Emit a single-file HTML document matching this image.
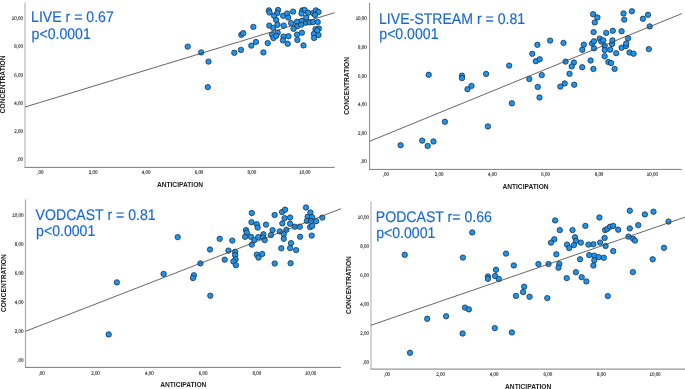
<!DOCTYPE html>
<html><head><meta charset="utf-8"><title>Scatter plots</title>
<style>
html,body{margin:0;padding:0;background:#fff;overflow:hidden}
svg{display:block;will-change:transform}
text{font-family:"Liberation Sans",sans-serif}
.tt{text-rendering:geometricPrecision}
.tk text{font-size:5.2px;fill:#222;text-rendering:geometricPrecision;stroke:#222;stroke-width:0.12px}
.ax{font-size:6.65px;font-weight:bold;fill:#222}
.tt{font-size:15.4px;fill:#1768d2;stroke:#1768d2;stroke-width:0.15px}
.dt circle{fill:#1b94f2;stroke:#1b2a3a;stroke-width:0.75}
</style></head>
<body>
<svg width="685" height="389" viewBox="0 0 685 389">
<rect width="685" height="389" fill="#fff"/>
<line x1="25" y1="2.5" x2="25" y2="167.4" stroke="#c6c6c6" stroke-width="1.5"/>
<line x1="24.5" y1="167.4" x2="334.7" y2="167.4" stroke="#7c7c7c" stroke-width="1.0"/>
<g class="tk"><text transform="translate(23,161.4) scale(0.86,1)" text-anchor="end">,00</text><text transform="translate(23,133.1) scale(0.86,1)" text-anchor="end">2,00</text><text transform="translate(23,104.8) scale(0.86,1)" text-anchor="end">4,00</text><text transform="translate(23,76.5) scale(0.86,1)" text-anchor="end">6,00</text><text transform="translate(23,48.2) scale(0.86,1)" text-anchor="end">8,00</text><text transform="translate(23,19.9) scale(0.86,1)" text-anchor="end">10,00</text><text transform="translate(40.3,174.3) scale(0.86,1)" text-anchor="middle">,00</text><text transform="translate(93.2,174.3) scale(0.86,1)" text-anchor="middle">2,00</text><text transform="translate(146.1,174.3) scale(0.86,1)" text-anchor="middle">4,00</text><text transform="translate(199,174.3) scale(0.86,1)" text-anchor="middle">6,00</text><text transform="translate(251.9,174.3) scale(0.86,1)" text-anchor="middle">8,00</text><text transform="translate(304.8,174.3) scale(0.86,1)" text-anchor="middle">10,00</text></g>
<text class="ax" x="180" y="186.8" text-anchor="middle">ANTICIPATION</text>
<text class="ax" transform="translate(5.2,84.4) rotate(-90)" text-anchor="middle">CONCENTRATION</text>
<g class="dt"><circle cx="187.7" cy="46.6" r="2.7"/><circle cx="201.2" cy="52.4" r="2.7"/><circle cx="208.5" cy="61.6" r="2.7"/><circle cx="207.8" cy="87.1" r="2.7"/><circle cx="234.3" cy="52.8" r="2.7"/><circle cx="240.9" cy="49.9" r="2.7"/><circle cx="241.3" cy="34.8" r="2.7"/><circle cx="243.2" cy="33.1" r="2.7"/><circle cx="253.4" cy="26.9" r="2.7"/><circle cx="251.3" cy="45.6" r="2.7"/><circle cx="255.9" cy="42" r="2.7"/><circle cx="263.4" cy="52.4" r="2.7"/><circle cx="267.7" cy="43.1" r="2.7"/><circle cx="268.9" cy="10.4" r="2.7"/><circle cx="269.5" cy="12.5" r="2.7"/><circle cx="278.1" cy="10" r="2.7"/><circle cx="277.3" cy="13.1" r="2.7"/><circle cx="274.1" cy="15.8" r="2.7"/><circle cx="276.2" cy="20" r="2.7"/><circle cx="283.1" cy="15.8" r="2.7"/><circle cx="287.2" cy="13.5" r="2.7"/><circle cx="288.3" cy="17.6" r="2.7"/><circle cx="293.1" cy="11.6" r="2.7"/><circle cx="269.3" cy="25.6" r="2.7"/><circle cx="273.3" cy="27.9" r="2.7"/><circle cx="277.5" cy="24.8" r="2.7"/><circle cx="283.7" cy="25.6" r="2.7"/><circle cx="291.1" cy="23.1" r="2.7"/><circle cx="297" cy="21.8" r="2.7"/><circle cx="297" cy="26.3" r="2.7"/><circle cx="293.5" cy="28.8" r="2.7"/><circle cx="302.3" cy="10.4" r="2.7"/><circle cx="304.6" cy="10" r="2.7"/><circle cx="301.5" cy="13.5" r="2.7"/><circle cx="308.1" cy="12.7" r="2.7"/><circle cx="306.2" cy="17.7" r="2.7"/><circle cx="313.1" cy="13.1" r="2.7"/><circle cx="315.8" cy="10.4" r="2.7"/><circle cx="318.5" cy="11.9" r="2.7"/><circle cx="315" cy="15" r="2.7"/><circle cx="301.9" cy="20.8" r="2.7"/><circle cx="305.8" cy="22.7" r="2.7"/><circle cx="309.6" cy="22.3" r="2.7"/><circle cx="313.1" cy="22" r="2.7"/><circle cx="317.7" cy="22" r="2.7"/><circle cx="301.2" cy="24.7" r="2.7"/><circle cx="315.5" cy="29.2" r="2.7"/><circle cx="318.9" cy="28.5" r="2.7"/><circle cx="272" cy="34.6" r="2.7"/><circle cx="273.5" cy="38.1" r="2.7"/><circle cx="277.7" cy="32.7" r="2.7"/><circle cx="276.2" cy="35.8" r="2.7"/><circle cx="283.5" cy="36.6" r="2.7"/><circle cx="282.9" cy="40.4" r="2.7"/><circle cx="288.5" cy="36.2" r="2.7"/><circle cx="287.7" cy="43.7" r="2.7"/><circle cx="297" cy="34.6" r="2.7"/><circle cx="297.4" cy="40" r="2.7"/><circle cx="301.9" cy="32.7" r="2.7"/><circle cx="303.5" cy="45.4" r="2.7"/><circle cx="313.9" cy="33.9" r="2.7"/><circle cx="318.5" cy="35" r="2.7"/><circle cx="314.1" cy="37.9" r="2.7"/><circle cx="317.3" cy="30.4" r="2.7"/></g>
<line x1="25.1" y1="107" x2="334.6" y2="12.7" stroke="#4a4a4a" stroke-width="0.85"/>
<text class="tt" transform="translate(31.1,22.25) scale(0.9156,1)">LIVE r = 0.67</text>
<text class="tt" transform="translate(31.6,38.95) scale(0.9156,1)">p&lt;0.0001</text>
<line x1="369.6" y1="2.9" x2="369.6" y2="169.4" stroke="#8c8c8c" stroke-width="1.0"/>
<line x1="369.1" y1="169.4" x2="681.7" y2="169.4" stroke="#7c7c7c" stroke-width="1.0"/>
<g class="tk"><text transform="translate(366.8,163.3) scale(0.86,1)" text-anchor="end">,00</text><text transform="translate(366.8,134.7) scale(0.86,1)" text-anchor="end">2,00</text><text transform="translate(366.8,106.1) scale(0.86,1)" text-anchor="end">4,00</text><text transform="translate(366.8,77.5) scale(0.86,1)" text-anchor="end">6,00</text><text transform="translate(366.8,48.9) scale(0.86,1)" text-anchor="end">8,00</text><text transform="translate(366.8,20.3) scale(0.86,1)" text-anchor="end">10,00</text><text transform="translate(385.8,176.3) scale(0.86,1)" text-anchor="middle">,00</text><text transform="translate(439.1,176.3) scale(0.86,1)" text-anchor="middle">2,00</text><text transform="translate(492.4,176.3) scale(0.86,1)" text-anchor="middle">4,00</text><text transform="translate(545.7,176.3) scale(0.86,1)" text-anchor="middle">6,00</text><text transform="translate(599,176.3) scale(0.86,1)" text-anchor="middle">8,00</text><text transform="translate(652.3,176.3) scale(0.86,1)" text-anchor="middle">10,00</text></g>
<text class="ax" x="525.5" y="189.4" text-anchor="middle">ANTICIPATION</text>
<text class="ax" transform="translate(349.1,85.9) rotate(-90)" text-anchor="middle">CONCENTRATION</text>
<g class="dt"><circle cx="400.6" cy="145.2" r="2.7"/><circle cx="422.2" cy="140.6" r="2.7"/><circle cx="427.7" cy="145.9" r="2.7"/><circle cx="433.5" cy="141.5" r="2.7"/><circle cx="428.7" cy="74.8" r="2.7"/><circle cx="444.9" cy="121.8" r="2.7"/><circle cx="462" cy="75.7" r="2.7"/><circle cx="462" cy="78.1" r="2.7"/><circle cx="471.5" cy="85.9" r="2.7"/><circle cx="467.5" cy="89.2" r="2.7"/><circle cx="486.1" cy="73.9" r="2.7"/><circle cx="487.9" cy="126.4" r="2.7"/><circle cx="509.2" cy="65.6" r="2.7"/><circle cx="511.9" cy="103.3" r="2.7"/><circle cx="529.3" cy="79" r="2.7"/><circle cx="532.3" cy="53.8" r="2.7"/><circle cx="537.4" cy="44.8" r="2.7"/><circle cx="535.8" cy="61.2" r="2.7"/><circle cx="539.7" cy="59.3" r="2.7"/><circle cx="541.8" cy="75.1" r="2.7"/><circle cx="537.8" cy="86.9" r="2.7"/><circle cx="539.5" cy="97.5" r="2.7"/><circle cx="550.1" cy="40.6" r="2.7"/><circle cx="563.5" cy="42.9" r="2.7"/><circle cx="565.6" cy="61.6" r="2.7"/><circle cx="560.3" cy="86.6" r="2.7"/><circle cx="564.7" cy="83.4" r="2.7"/><circle cx="569.5" cy="73.8" r="2.7"/><circle cx="573.9" cy="62.5" r="2.7"/><circle cx="571.7" cy="66.4" r="2.7"/><circle cx="582.2" cy="67.2" r="2.7"/><circle cx="590.6" cy="60.5" r="2.7"/><circle cx="593.4" cy="68.9" r="2.7"/><circle cx="574.2" cy="84.7" r="2.7"/><circle cx="593.1" cy="14.2" r="2.7"/><circle cx="597.4" cy="17.4" r="2.7"/><circle cx="594.8" cy="22.4" r="2.7"/><circle cx="593.6" cy="32.1" r="2.7"/><circle cx="606.2" cy="32.9" r="2.7"/><circle cx="612.8" cy="30.8" r="2.7"/><circle cx="583.8" cy="44.7" r="2.7"/><circle cx="582.3" cy="49.8" r="2.7"/><circle cx="592" cy="43.5" r="2.7"/><circle cx="593.9" cy="41.3" r="2.7"/><circle cx="594" cy="48.3" r="2.7"/><circle cx="599.7" cy="38.6" r="2.7"/><circle cx="601.3" cy="41.6" r="2.7"/><circle cx="603.3" cy="40.4" r="2.7"/><circle cx="604.7" cy="46" r="2.7"/><circle cx="604.7" cy="50.1" r="2.7"/><circle cx="610.2" cy="49.7" r="2.7"/><circle cx="612.1" cy="44" r="2.7"/><circle cx="612.4" cy="40.4" r="2.7"/><circle cx="604.7" cy="56.3" r="2.7"/><circle cx="623.5" cy="13.4" r="2.7"/><circle cx="631.9" cy="11.3" r="2.7"/><circle cx="624.2" cy="19.6" r="2.7"/><circle cx="642.9" cy="18.8" r="2.7"/><circle cx="648" cy="14.8" r="2.7"/><circle cx="649.7" cy="26.4" r="2.7"/><circle cx="621.6" cy="31.2" r="2.7"/><circle cx="628.1" cy="38.3" r="2.7"/><circle cx="648.8" cy="49.1" r="2.7"/><circle cx="616.2" cy="53.2" r="2.7"/><circle cx="621.6" cy="47.8" r="2.7"/><circle cx="625.9" cy="46" r="2.7"/><circle cx="626.2" cy="43.5" r="2.7"/><circle cx="629.6" cy="52.5" r="2.7"/><circle cx="633.6" cy="53.7" r="2.7"/><circle cx="608.4" cy="62" r="2.7"/><circle cx="611.1" cy="63" r="2.7"/><circle cx="614.6" cy="68.9" r="2.7"/></g>
<line x1="369.3" y1="141.4" x2="681.8" y2="13.6" stroke="#4a4a4a" stroke-width="0.85"/>
<text class="tt" transform="translate(379,23.55) scale(0.9156,1)">LIVE-STREAM r = 0.81</text>
<text class="tt" transform="translate(379.3,39.05) scale(0.9156,1)">p&lt;0.0001</text>
<line x1="25.5" y1="199.4" x2="25.5" y2="367.4" stroke="#a8a8a8" stroke-width="1.2"/>
<line x1="25" y1="367.4" x2="340.9" y2="367.4" stroke="#7c7c7c" stroke-width="1.0"/>
<g class="tk"><text transform="translate(23.4,361.5) scale(0.86,1)" text-anchor="end">,00</text><text transform="translate(23.4,332.6) scale(0.86,1)" text-anchor="end">2,00</text><text transform="translate(23.4,303.7) scale(0.86,1)" text-anchor="end">4,00</text><text transform="translate(23.4,274.8) scale(0.86,1)" text-anchor="end">6,00</text><text transform="translate(23.4,245.9) scale(0.86,1)" text-anchor="end">8,00</text><text transform="translate(23.4,217) scale(0.86,1)" text-anchor="end">10,00</text><text transform="translate(41.7,374.9) scale(0.86,1)" text-anchor="middle">,00</text><text transform="translate(95.5,374.9) scale(0.86,1)" text-anchor="middle">2,00</text><text transform="translate(149.3,374.9) scale(0.86,1)" text-anchor="middle">4,00</text><text transform="translate(203.1,374.9) scale(0.86,1)" text-anchor="middle">6,00</text><text transform="translate(256.9,374.9) scale(0.86,1)" text-anchor="middle">8,00</text><text transform="translate(310.7,374.9) scale(0.86,1)" text-anchor="middle">10,00</text></g>
<text class="ax" x="183.3" y="387" text-anchor="middle">ANTICIPATION</text>
<text class="ax" transform="translate(5.9,283.2) rotate(-90)" text-anchor="middle">CONCENTRATION</text>
<g class="dt"><circle cx="108.7" cy="334.4" r="2.7"/><circle cx="116.9" cy="282.4" r="2.7"/><circle cx="163.6" cy="273.9" r="2.7"/><circle cx="177.7" cy="237.1" r="2.7"/><circle cx="193.9" cy="275.3" r="2.7"/><circle cx="193" cy="278.1" r="2.7"/><circle cx="200.4" cy="263.4" r="2.7"/><circle cx="210.3" cy="295.7" r="2.7"/><circle cx="210" cy="249.5" r="2.7"/><circle cx="219.7" cy="238.8" r="2.7"/><circle cx="232.3" cy="240.6" r="2.7"/><circle cx="228.4" cy="250.6" r="2.7"/><circle cx="224.7" cy="259.7" r="2.7"/><circle cx="235.1" cy="251.8" r="2.7"/><circle cx="235.1" cy="255.1" r="2.7"/><circle cx="235.6" cy="259.3" r="2.7"/><circle cx="233.4" cy="261.5" r="2.7"/><circle cx="235.9" cy="265.2" r="2.7"/><circle cx="251.8" cy="213" r="2.7"/><circle cx="251.5" cy="222.2" r="2.7"/><circle cx="256.8" cy="224.2" r="2.7"/><circle cx="257.7" cy="227.6" r="2.7"/><circle cx="246" cy="230.1" r="2.7"/><circle cx="246.8" cy="232.6" r="2.7"/><circle cx="245.1" cy="236.8" r="2.7"/><circle cx="251" cy="236.8" r="2.7"/><circle cx="254.3" cy="240.1" r="2.7"/><circle cx="258.2" cy="237.1" r="2.7"/><circle cx="251.8" cy="244.6" r="2.7"/><circle cx="256.8" cy="254.6" r="2.7"/><circle cx="258.5" cy="257.6" r="2.7"/><circle cx="266" cy="224.6" r="2.7"/><circle cx="274.6" cy="215" r="2.7"/><circle cx="282.1" cy="212" r="2.7"/><circle cx="285.1" cy="209.7" r="2.7"/><circle cx="284.6" cy="218.1" r="2.7"/><circle cx="290.1" cy="217.5" r="2.7"/><circle cx="282.3" cy="223.4" r="2.7"/><circle cx="290.1" cy="223.7" r="2.7"/><circle cx="294.8" cy="226.7" r="2.7"/><circle cx="299.8" cy="226.7" r="2.7"/><circle cx="306" cy="207.5" r="2.7"/><circle cx="307.7" cy="216.7" r="2.7"/><circle cx="306.8" cy="220.9" r="2.7"/><circle cx="272.6" cy="230.1" r="2.7"/><circle cx="279.8" cy="231.4" r="2.7"/><circle cx="286.4" cy="229.8" r="2.7"/><circle cx="283.8" cy="234.3" r="2.7"/><circle cx="283.8" cy="238.8" r="2.7"/><circle cx="300.1" cy="236.8" r="2.7"/><circle cx="270.9" cy="235.1" r="2.7"/><circle cx="263.4" cy="234.3" r="2.7"/><circle cx="263" cy="237.6" r="2.7"/><circle cx="264.7" cy="240.1" r="2.7"/><circle cx="291" cy="243.1" r="2.7"/><circle cx="290.1" cy="248.1" r="2.7"/><circle cx="296.1" cy="250.1" r="2.7"/><circle cx="281.3" cy="248.3" r="2.7"/><circle cx="262.2" cy="254" r="2.7"/><circle cx="274.7" cy="263.5" r="2.7"/><circle cx="290.6" cy="263.2" r="2.7"/><circle cx="310.4" cy="212.5" r="2.7"/><circle cx="312.1" cy="217.1" r="2.7"/><circle cx="310.9" cy="220.9" r="2.7"/><circle cx="316.2" cy="221.2" r="2.7"/><circle cx="322.3" cy="217.6" r="2.7"/><circle cx="310.1" cy="227.1" r="2.7"/><circle cx="312.2" cy="225.9" r="2.7"/><circle cx="311.7" cy="235.6" r="2.7"/></g>
<line x1="25.7" y1="331.2" x2="341" y2="208.7" stroke="#4a4a4a" stroke-width="0.85"/>
<text class="tt" transform="translate(35.6,219.85) scale(0.9156,1)">VODCAST r = 0.81</text>
<text class="tt" transform="translate(36.1,235.95) scale(0.9156,1)">p&lt;0.0001</text>
<line x1="371" y1="201.6" x2="371" y2="369.1" stroke="#c6c6c6" stroke-width="1.5"/>
<line x1="370.5" y1="369.1" x2="685.5" y2="369.1" stroke="#7c7c7c" stroke-width="1.0"/>
<g class="tk"><text transform="translate(369,363.8) scale(0.86,1)" text-anchor="end">,00</text><text transform="translate(369,334.9) scale(0.86,1)" text-anchor="end">2,00</text><text transform="translate(369,306) scale(0.86,1)" text-anchor="end">4,00</text><text transform="translate(369,277.1) scale(0.86,1)" text-anchor="end">6,00</text><text transform="translate(369,248.2) scale(0.86,1)" text-anchor="end">8,00</text><text transform="translate(369,219.3) scale(0.86,1)" text-anchor="end">10,00</text><text transform="translate(387,376) scale(0.86,1)" text-anchor="middle">,00</text><text transform="translate(440.6,376) scale(0.86,1)" text-anchor="middle">2,00</text><text transform="translate(494.2,376) scale(0.86,1)" text-anchor="middle">4,00</text><text transform="translate(547.8,376) scale(0.86,1)" text-anchor="middle">6,00</text><text transform="translate(601.4,376) scale(0.86,1)" text-anchor="middle">8,00</text><text transform="translate(655,376) scale(0.86,1)" text-anchor="middle">10,00</text></g>
<text class="ax" x="528.2" y="388.5" text-anchor="middle">ANTICIPATION</text>
<text class="ax" transform="translate(351.3,285) rotate(-90)" text-anchor="middle">CONCENTRATION</text>
<g class="dt"><circle cx="404.7" cy="254.8" r="2.7"/><circle cx="410" cy="352.8" r="2.7"/><circle cx="427.2" cy="318.8" r="2.7"/><circle cx="446.1" cy="316.3" r="2.7"/><circle cx="465" cy="307.6" r="2.7"/><circle cx="468.9" cy="309.4" r="2.7"/><circle cx="462.6" cy="333.5" r="2.7"/><circle cx="472.2" cy="232.4" r="2.7"/><circle cx="462.9" cy="257.6" r="2.7"/><circle cx="506" cy="253.6" r="2.7"/><circle cx="496" cy="269.8" r="2.7"/><circle cx="487.9" cy="276.5" r="2.7"/><circle cx="487.9" cy="278.8" r="2.7"/><circle cx="495.1" cy="276" r="2.7"/><circle cx="498.8" cy="279" r="2.7"/><circle cx="513.8" cy="265.4" r="2.7"/><circle cx="494.8" cy="328.1" r="2.7"/><circle cx="511.9" cy="332.4" r="2.7"/><circle cx="515.9" cy="295.9" r="2.7"/><circle cx="524.2" cy="286.7" r="2.7"/><circle cx="523.1" cy="292.1" r="2.7"/><circle cx="529.6" cy="296.8" r="2.7"/><circle cx="547.3" cy="298.1" r="2.7"/><circle cx="555.1" cy="220.4" r="2.7"/><circle cx="559.8" cy="230.1" r="2.7"/><circle cx="554.3" cy="239.3" r="2.7"/><circle cx="551" cy="242.6" r="2.7"/><circle cx="556.3" cy="254.3" r="2.7"/><circle cx="538.4" cy="264" r="2.7"/><circle cx="548.5" cy="264" r="2.7"/><circle cx="559.3" cy="264" r="2.7"/><circle cx="558.5" cy="267.7" r="2.7"/><circle cx="572.5" cy="230.1" r="2.7"/><circle cx="585.4" cy="225.9" r="2.7"/><circle cx="599.4" cy="217.5" r="2.7"/><circle cx="605.1" cy="230.1" r="2.7"/><circle cx="607.3" cy="228.9" r="2.7"/><circle cx="610.1" cy="226.7" r="2.7"/><circle cx="613.2" cy="225.9" r="2.7"/><circle cx="618.2" cy="229.7" r="2.7"/><circle cx="575" cy="237.3" r="2.7"/><circle cx="575.9" cy="240.9" r="2.7"/><circle cx="580.9" cy="242.6" r="2.7"/><circle cx="567" cy="244.6" r="2.7"/><circle cx="569.2" cy="248.1" r="2.7"/><circle cx="573.9" cy="245.1" r="2.7"/><circle cx="588.4" cy="244.6" r="2.7"/><circle cx="593.4" cy="244.3" r="2.7"/><circle cx="600.1" cy="242.6" r="2.7"/><circle cx="604.6" cy="237.9" r="2.7"/><circle cx="605.6" cy="246" r="2.7"/><circle cx="613.2" cy="251.1" r="2.7"/><circle cx="589.2" cy="255.1" r="2.7"/><circle cx="594.3" cy="255.6" r="2.7"/><circle cx="598.8" cy="257.1" r="2.7"/><circle cx="603.8" cy="257.8" r="2.7"/><circle cx="594.3" cy="260.2" r="2.7"/><circle cx="580.1" cy="259.3" r="2.7"/><circle cx="593.4" cy="265.5" r="2.7"/><circle cx="575.9" cy="272.2" r="2.7"/><circle cx="566.7" cy="278.1" r="2.7"/><circle cx="581.7" cy="277.2" r="2.7"/><circle cx="586.4" cy="281.4" r="2.7"/><circle cx="607.8" cy="296.1" r="2.7"/><circle cx="629.8" cy="210.7" r="2.7"/><circle cx="644.9" cy="214.4" r="2.7"/><circle cx="653.5" cy="211.7" r="2.7"/><circle cx="629.8" cy="228.4" r="2.7"/><circle cx="638.3" cy="225.1" r="2.7"/><circle cx="668.5" cy="221.6" r="2.7"/><circle cx="628.4" cy="236.6" r="2.7"/><circle cx="633.1" cy="238.7" r="2.7"/><circle cx="635" cy="240.6" r="2.7"/><circle cx="664" cy="247.8" r="2.7"/><circle cx="652.7" cy="259.3" r="2.7"/><circle cx="632.9" cy="272.1" r="2.7"/></g>
<line x1="370.8" y1="325.3" x2="685.5" y2="217" stroke="#4a4a4a" stroke-width="0.85"/>
<text class="tt" transform="translate(375.8,222.45) scale(0.9156,1)">PODCAST r= 0.66</text>
<text class="tt" transform="translate(376.2,238.25) scale(0.9156,1)">p&lt;0.0001</text>
</svg>
</body></html>
